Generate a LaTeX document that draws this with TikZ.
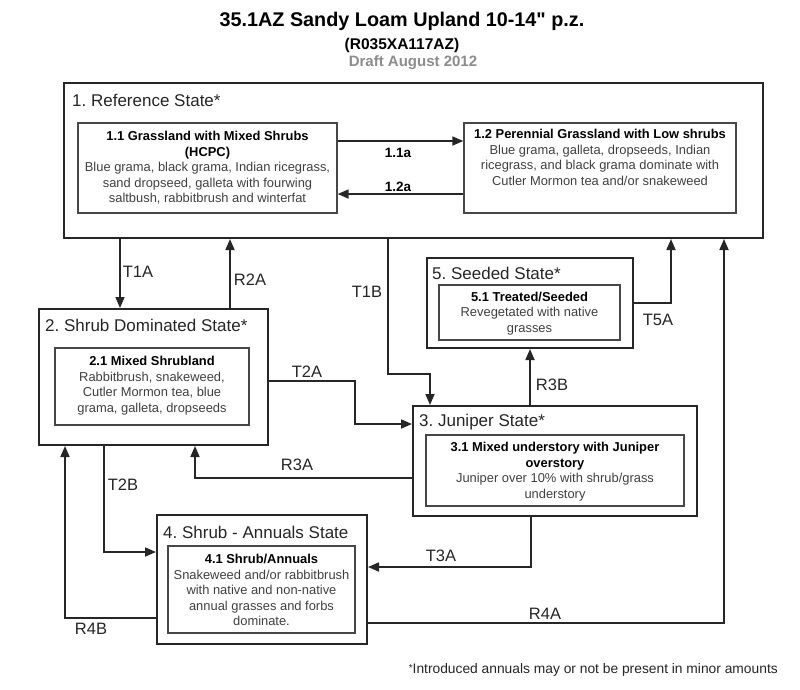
\documentclass[tikz,border=0pt]{standalone}
\usepackage{fontspec}
\setmainfont{Liberation Sans}[Ligatures=TeXOff]
\usetikzlibrary{arrows.meta,fit}
\definecolor{bodygray}{HTML}{404040}
\definecolor{linegray}{HTML}{262626}
\frenchspacing
\begin{document}
\begin{tikzpicture}[x=1pt,y=-1pt,
  outerbox/.style={draw=linegray, line width=2pt, inner sep=0pt},
  innerbox/.style={draw=linegray!85, line width=1.3pt, inner sep=0pt},
  bodytext/.style={align=center, inner sep=0pt, text=bodygray, font=\fontsize{12.9}{15.5}\selectfont},
  statelabel/.style={anchor=west, inner sep=0pt, text=linegray, font=\fontsize{17}{20}\selectfont},
  edgelabel/.style={inner sep=0pt, text=linegray, font=\fontsize{16.5}{20}\selectfont},
  smalllabel/.style={inner sep=0pt, text=black, font=\bfseries\fontsize{13.5}{16}\selectfont},
  arr/.style={draw=linegray, line width=1.7pt, -{Triangle[length=11pt,width=9pt]}}
]
\useasboundingbox[fill=white] (0,0) rectangle (800,689);

% titles
\node[inner sep=0pt, font=\bfseries\fontsize{19.8}{22}\selectfont] (title) at (402,21) {35.1AZ Sandy Loam Upland 10-14" p.z.};
\node[inner sep=0pt, font=\bfseries\fontsize{15.5}{18}\selectfont] (sub) at (402,45) {(R035XA117AZ)};
\node[inner sep=0pt, text=black!45, font=\bfseries\fontsize{15}{18}\selectfont] (draft) at (413,63) {Draft August 2012};

% state boxes
\node[outerbox, fit={(64,83)(763,238)}] (b1) {};
\node[innerbox, fit={(78,123)(337,213)}] (b11) {};
\node[innerbox, fit={(464,123)(736,213)}] (b12) {};
\node[outerbox, fit={(39,309)(268,445)}] (b2) {};
\node[innerbox, fit={(55,348)(249,425)}] (b21) {};
\node[outerbox, fit={(427,258)(633,348)}] (b5) {};
\node[innerbox, fit={(439,285)(620,340)}] (b51) {};
\node[outerbox, fit={(413,406)(697,516)}] (b3) {};
\node[innerbox, fit={(426,435)(684,506)}] (b31) {};
\node[outerbox, fit={(157,515)(367,644)}] (b4) {};
\node[innerbox, fit={(168,546)(355,633)}] (b41) {};

% state labels
\node[statelabel] (l1) at (72,100) {1. Reference State*};
\node[statelabel] (l2) at (45,325) {2. Shrub Dominated State*};
\node[statelabel] (l5) at (432,273) {5. Seeded State*};
\node[statelabel] (l3) at (419,422) {3. Juniper State*};
\node[statelabel] (l4) at (163,532) {4. Shrub - Annuals State};

% community texts
\node[bodytext] (t11) at (b11.center) {\textcolor{black}{\bfseries 1.1 Grassland with Mixed Shrubs}\\\textcolor{black}{\bfseries (HCPC)}\\Blue grama, black grama, Indian ricegrass,\\sand dropseed, galleta with fourwing\\saltbush, rabbitbrush and winterfat};
\node[bodytext, anchor=north] (t12) at (600,129) {\textcolor{black}{\bfseries 1.2 Perennial Grassland with Low shrubs}\\Blue grama, galleta, dropseeds, Indian\\ricegrass, and black grama dominate with\\Cutler Mormon tea and/or snakeweed};
\node[bodytext] (t21) at (152,385.5) {\textcolor{black}{\bfseries 2.1 Mixed Shrubland}\\Rabbitbrush, snakeweed,\\Cutler Mormon tea, blue\\grama, galleta, dropseeds};
\node[bodytext] (t51) at (529.5,313.5) {\textcolor{black}{\bfseries 5.1 Treated/Seeded}\\Revegetated with native\\grasses};
\node[bodytext] (t31) at (555,471.5) {\textcolor{black}{\bfseries 3.1 Mixed understory with Juniper}\\\textcolor{black}{\bfseries overstory}\\Juniper over 10\% with shrub/grass\\understory};
\node[bodytext] (t41) at (261.5,590) {\textcolor{black}{\bfseries 4.1 Shrub/Annuals}\\Snakeweed and/or rabbitbrush\\with native and non-native\\annual grasses and forbs\\dominate.};

% connectors inside state 1
\draw[arr] (b11.east |- 0,141) -- (b12.west |- 0,141);
\draw[arr] (b12.west |- 0,194) -- (b11.east |- 0,194);
\node[smalllabel] (e11a) at (398,153) {1.1a};
\node[smalllabel] (e12a) at (398,187) {1.2a};

% transitions
\draw[arr] (120,0 |- b1.south) -- (120,0 |- b2.north);
\node[edgelabel] (eT1A) at (138,272) {T1A};
\draw[arr] (230,0 |- b2.north) -- (230,0 |- b1.south);
\node[edgelabel] (eR2A) at (250,280) {R2A};
\draw[arr] (388,0 |- b1.south) |- (430,374) -- (430,0 |- b3.north);
\node[edgelabel] (eT1B) at (367,292) {T1B};
\draw[arr] (b2.east |- 0,381) -- (355,381) |- (b3.west |- 0,424);
\node[edgelabel] (eT2A) at (307,372) {T2A};
\draw[arr] (530,0 |- b3.north) -- (530,0 |- b5.south);
\node[edgelabel] (eR3B) at (552,385) {R3B};
\draw[arr] (b5.east |- 0,303) -| (671,0 |- b1.south);
\node[edgelabel] (eT5A) at (658,320) {T5A};
\draw[arr] (b3.west |- 0,478) -| (195,0 |- b2.south);
\node[edgelabel] (eR3A) at (297,465) {R3A};
\draw[arr] (104,0 |- b2.south) |- (b4.west |- 0,552);
\node[edgelabel] (eT2B) at (123,485) {T2B};
\draw[arr] (531,0 |- b3.south) |- (b4.east |- 0,567);
\node[edgelabel] (eT3A) at (441,556) {T3A};
\draw[arr] (b4.east |- 0,623) -| (724,0 |- b1.south);
\node[edgelabel] (eR4A) at (545,614) {R4A};
\draw[arr] (b4.west |- 0,618) -| (65,0 |- b2.south);
\node[edgelabel] (eR4B) at (91,629) {R4B};

% footnote
\node[anchor=east, inner sep=0pt, text=linegray, font=\fontsize{13.8}{16}\selectfont] (foot) at (778,670) {\raisebox{0.35ex}{\fontsize{10}{12}\selectfont *}Introduced annuals may or not be present in minor amounts};
\end{tikzpicture}
\end{document}
